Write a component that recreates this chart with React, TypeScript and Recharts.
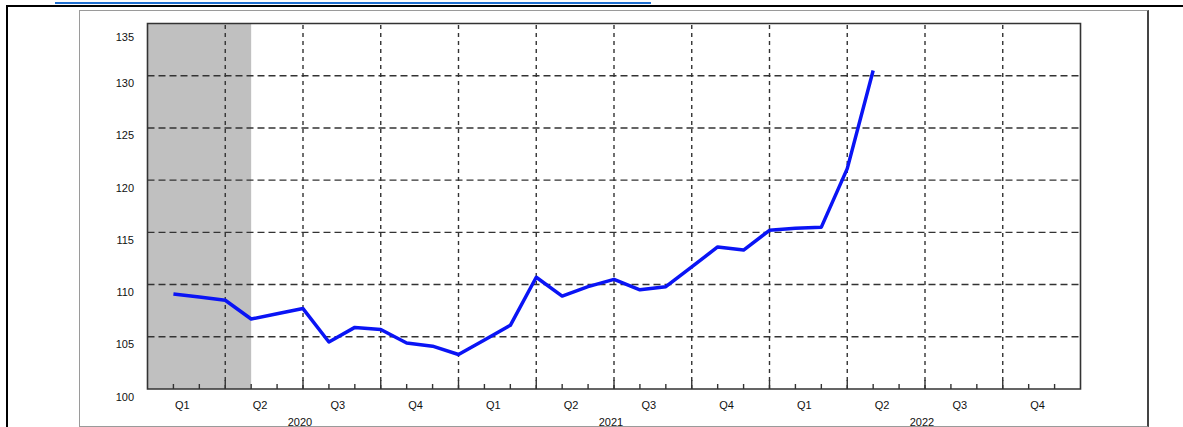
import React from 'react';
import { LineChart, Line, XAxis, YAxis, ReferenceArea, ReferenceLine } from 'recharts';

// Monthly observations (month start)
const months = [
  '2020-02', '2020-03', '2020-04', '2020-05', '2020-06', '2020-07', '2020-08', '2020-09', '2020-10', '2020-11', '2020-12',
  '2021-01', '2021-02', '2021-03', '2021-04', '2021-05', '2021-06', '2021-07', '2021-08', '2021-09', '2021-10', '2021-11', '2021-12',
  '2022-01', '2022-02', '2022-03', '2022-04', '2022-05',
];
const values = [
  109.1, 108.8, 108.5, 106.7, 107.2, 107.7, 104.5, 105.9, 105.7, 104.4, 104.1,
  103.3, 104.7, 106.1, 110.7, 108.9, 109.8, 110.5, 109.5, 109.8, 111.7, 113.6, 113.3,
  115.2, 115.4, 115.5, 121.1, 130.5,
];
const quarterLabels = ['Q1', 'Q2', 'Q3', 'Q4'];
const yearLabels = ['2020', '2021', '2022'];
const yTicks = [100, 105, 110, 115, 120, 125, 130, 135];
const yGridValues = [105, 110, 115, 120, 125, 130];
const recessionStart = '2020-01';
const recessionEnd = '2020-05';
const axisStart = '2020-01';
const axisEnd = '2023-01';

const monthIndex = (s: string) => {
  const [y, m] = s.split('-').map(Number);
  return (y - 2020) * 12 + (m - 1);
};

const data = months.map((m, i) => ({ x: monthIndex(m), v: values[i] }));
const xMin = monthIndex(axisStart);
const xMax = monthIndex(axisEnd);
const monthTicks: number[] = [];
for (let i = xMin; i <= xMax; i++) monthTicks.push(i);
const quarterBounds = monthTicks.filter((t) => t > xMin && t < xMax && t % 3 === 0);
const quarterMids: number[] = [];
yearLabels.forEach((_, yi) => quarterLabels.forEach((_, qi) => quarterMids.push(yi * 12 + qi * 3 + 1.5)));
const xTicks = [...monthTicks, ...quarterMids].sort((a, b) => a - b);

const FONT = '"Liberation Sans", Arial, sans-serif';

const XTick = (props: any) => {
  const { x, y, payload } = props;
  const v = payload.value as number;
  const els: any[] = [];
  if (Number.isInteger(v)) {
    if (v > xMin && v < xMax) {
      els.push(
        <line key="t" x1={x} x2={x} y1={y} y2={y - (v % 3 === 0 ? 9 : 5)} stroke="#333" strokeWidth={1.4} />
      );
    }
    if (v % 12 === 6) {
      const yi = Math.floor(v / 12);
      els.push(
        <text key="y" x={x - 3} y={y + 33} textAnchor="middle" dominantBaseline="central" fontSize={11} fill="#111" fontFamily={FONT}>
          {yearLabels[yi]}
        </text>
      );
    }
  } else {
    const qi = Math.floor((v % 12) / 3);
    els.push(
      <text key="q" x={x - 4} y={y + 16} textAnchor="middle" dominantBaseline="central" fontSize={11} fill="#111" fontFamily={FONT}>
        {quarterLabels[qi]}
      </text>
    );
  }
  return <g>{els}</g>;
};

const YTick = (props: any) => {
  const { x, y, payload } = props;
  const v = payload.value as number;
  const dy = v === 135 ? 13 : 7.5;
  return (
    <text x={x - 13.5} y={y + dy} textAnchor="end" dominantBaseline="central" fontSize={11} fill="#111" fontFamily={FONT}>
      {v}
    </text>
  );
};

export default function App() {
  return (
    <div style={{ position: 'absolute', left: 0, top: 0, width: 1183, height: 427, overflow: 'hidden', background: '#fff' }}>
      <div style={{ position: 'absolute', left: 55, top: 2, width: 596, height: 2, background: '#1f6fd0' }} />
      <div style={{ position: 'absolute', left: 6, top: 5, width: 1177, height: 2, background: '#000' }} />
      <div style={{ position: 'absolute', left: 6, top: 5, width: 2, height: 422, background: '#000' }} />
      <div
        style={{
          position: 'absolute',
          left: 79,
          top: 10,
          width: 1067,
          height: 415,
          borderLeft: '1px solid #9a9a9a',
          borderTop: '1px solid #9a9a9a',
          borderRight: '2px solid #444',
          borderBottom: '1px solid #9a9a9a',
        }}
      />
      <div style={{ position: 'absolute', left: 0, top: 0 }}>
        <LineChart width={1183} height={427} data={data} margin={{ top: 23.5, right: 102.5, bottom: 0, left: 87.5 }}>
          <XAxis
            dataKey="x"
            type="number"
            domain={[xMin, xMax]}
            ticks={xTicks}
            interval={0}
            tickSize={0}
            tickMargin={0}
            axisLine={false}
            tickLine={false}
            height={38}
            tick={<XTick />}
            allowDataOverflow
          />
          <YAxis
            type="number"
            domain={[100, 135]}
            ticks={yTicks}
            interval={0}
            tickSize={0}
            tickMargin={0}
            axisLine={false}
            tickLine={false}
            width={60}
            tick={<YTick />}
            allowDataOverflow
          />
          <ReferenceArea x1={monthIndex(recessionStart)} x2={monthIndex(recessionEnd)} y1={100} y2={135} fill="#c0c0c0" fillOpacity={1} stroke="none" />
          {yGridValues.map((v) => (
            <ReferenceLine key={'h' + v} y={v} stroke="#333" strokeWidth={1.4} strokeDasharray="7 4" />
          ))}
          {quarterBounds.map((v) => (
            <ReferenceLine key={'v' + v} x={v} stroke="#333" strokeWidth={1.4} strokeDasharray="4 4" />
          ))}
          <ReferenceArea x1={xMin} x2={xMax} y1={100} y2={135} fill="none" fillOpacity={0} stroke="#333" strokeWidth={1.6} />
          <Line
            type="linear"
            dataKey="v"
            stroke="#0a14f5"
            strokeWidth={3.5}
            dot={false}
            isAnimationActive={false}
            strokeLinejoin="round"
          />
        </LineChart>
      </div>
    </div>
  );
}
